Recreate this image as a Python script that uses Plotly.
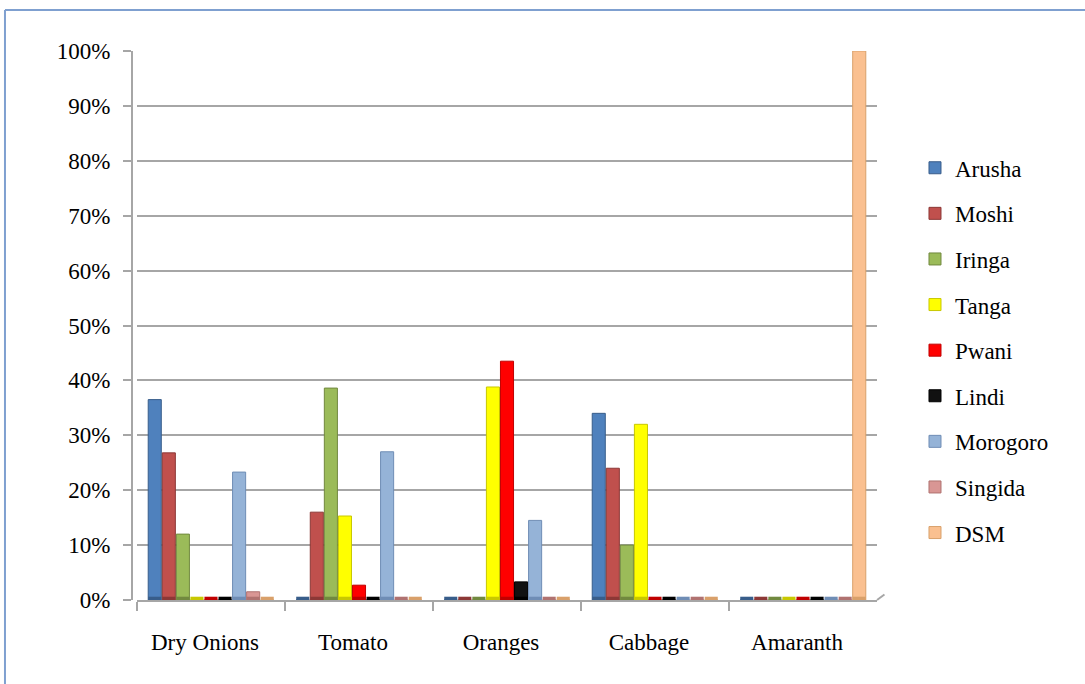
import plotly.graph_objects as go

# Share of supply by region for each crop
crops = ["Dry Onions", "Tomato", "Oranges", "Cabbage", "Amaranth"]
regions = ["Arusha", "Moshi", "Iringa", "Tanga", "Pwani", "Lindi", "Morogoro", "Singida", "DSM"]

arusha = [0.365, 0.0, 0.0, 0.34, 0.0]
moshi = [0.268, 0.16, 0.0, 0.24, 0.0]
iringa = [0.12, 0.386, 0.0, 0.10, 0.0]
tanga = [0.0, 0.153, 0.388, 0.32, 0.0]
pwani = [0.0, 0.027, 0.435, 0.0, 0.0]
lindi = [0.0, 0.0, 0.033, 0.0, 0.0]
morogoro = [0.233, 0.27, 0.145, 0.0, 0.0]
singida = [0.015, 0.0, 0.0, 0.0, 0.0]
dsm = [0.0, 0.0, 0.0, 0.0, 1.0]

series = [arusha, moshi, iringa, tanga, pwani, lindi, morogoro, singida, dsm]

fills = ["#4F81BD", "#C0504D", "#9BBB59", "#FFFF00", "#FF0000",
         "#111111", "#95B3D7", "#D99694", "#FAC090"]
edges = ["#385D8A", "#8C3836", "#71893F", "#C8C800", "#C00000",
         "#000000", "#6F8DB5", "#B07270", "#D9A06A"]

FONT = "'Liberation Serif', 'Times New Roman', serif"
TEXT = "#000000"
GRID = "#A6A6A6"
SIZE = 23

fig = go.Figure()

# Columns
for name, vals, fc, ec in zip(regions, series, fills, edges):
    fig.add_trace(go.Bar(
        name=name, x=crops, y=vals,
        marker=dict(color=fc, line=dict(color=ec, width=1)),
        legendgroup=name, xaxis="x", yaxis="y",
    ))

# Flat base discs on the floor under every column (visible where a value is zero)
disc = 0.006
for name, fc, ec in zip(regions, fills, edges):
    fig.add_trace(go.Bar(
        name=name, x=crops, y=[disc] * len(crops),
        marker=dict(color=ec, line=dict(width=0)),
        showlegend=False, legendgroup=name, hoverinfo="skip",
        xaxis="x", yaxis="y2",
    ))

fig.update_layout(
    width=1085, height=684,
    margin=dict(l=132, r=208, t=51, b=84),
    paper_bgcolor="white", plot_bgcolor="white",
    barmode="group", bargap=0.145, bargroupgap=0.07,
    font=dict(family=FONT, size=SIZE, color=TEXT),
    showlegend=True,
    legend=dict(
        x=1.051, xanchor="left", y=0.8264, yanchor="top",
        font=dict(family=FONT, size=SIZE, color=TEXT),
        tracegroupgap=12.7, bgcolor="rgba(0,0,0,0)",
    ),
    xaxis=dict(
        domain=[0.0067, 1.0], type="category",
        tickson="boundaries", ticks="outside", ticklen=9, tickcolor=GRID, tickwidth=2,
        showline=True, linecolor=GRID, linewidth=2,
        showgrid=False, ticklabelshift=-6, ticklabelstandoff=20,
        tickfont=dict(family=FONT, size=SIZE, color=TEXT),
    ),
    yaxis=dict(
        range=[0, 1.0], tickvals=[i / 10 for i in range(11)],
        tickformat=".0%", anchor="free", position=0,
        showgrid=True, gridcolor=GRID, gridwidth=2,
        ticks="outside", ticklen=8, tickcolor=GRID, tickwidth=2,
        showline=True, linecolor=GRID, linewidth=2,
        zeroline=False, ticklabelstandoff=8,
        tickfont=dict(family=FONT, size=SIZE, color=TEXT),
    ),
    yaxis2=dict(
        range=[0, 1.0], overlaying="y", visible=False, showgrid=False,
    ),
    shapes=[
        # chart frame, top and left edges
        dict(type="line", xref="paper", yref="paper",
             x0=-0.1705, x1=1.28, y0=1.0747, y1=1.0747,
             line=dict(color="#7FA0D0", width=2)),
        dict(type="line", xref="paper", yref="paper",
             x0=-0.1705, x1=-0.1705, y0=1.0747, y1=-0.2,
             line=dict(color="#7FA0D0", width=2)),
        # floor depth edge at the right end
        dict(type="line", xref="paper", yref="paper",
             x0=1.0, x1=1.01, y0=0.0, y1=0.01,
             line=dict(color=GRID, width=2)),
    ],
)

fig.write_html("out.html")
